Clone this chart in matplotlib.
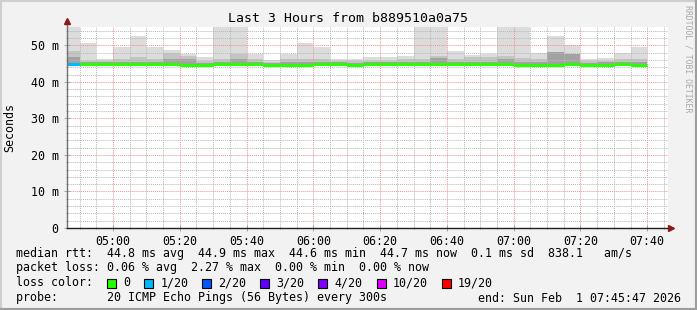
import numpy as np
import pandas as pd
import matplotlib
matplotlib.use('Agg')
import matplotlib.pyplot as plt
import matplotlib.dates as mdates
from matplotlib.lines import Line2D
from matplotlib.patches import Rectangle

plt.rcParams['font.family'] = 'DejaVu Sans Mono'

W, H = 697, 310

# data (ms), one value per 5 min step, step end times below
slot_end = pd.date_range('2026-02-01 04:50', '2026-02-01 07:40', freq='5min')
t_start = pd.Timestamp('2026-02-01 04:46:13')
t_end = pd.Timestamp('2026-02-01 07:46:13')

median = [44.8, 44.8, 44.8, 44.8, 44.8, 44.8, 44.8, 44.6, 44.6, 44.8, 44.8, 44.8,
          44.6, 44.6, 44.7, 44.8, 44.8, 44.7, 44.8, 44.8, 44.8, 44.8, 44.8, 44.8,
          44.8, 44.8, 44.8, 44.7, 44.7, 44.7, 44.8, 44.7, 44.7, 44.8, 44.7]
loss = [1, 0, 0, 0, 0, 0, 0, 0, 0, 0, 0, 0, 0, 0, 0, 0, 0, 0,
        0, 0, 0, 0, 0, 0, 0, 0, 0, 0, 0, 0, 0, 0, 0, 0, 0]
smoke_max = [56.0, 50.5, 46.2, 49.5, 52.5, 49.5, 48.6, 47.5, 46.8, 56.0, 56.0, 47.5,
             45.9, 47.5, 50.5, 49.5, 46.2, 46.2, 46.8, 46.8, 47.1, 56.0, 56.0, 48.5,
             47.3, 47.5, 56.0, 56.0, 48.0, 52.5, 50.0, 46.2, 46.6, 48.0, 49.5]
smoke_mid = [48.3, 45.6, 45.6, 46.2, 46.8, 46.2, 48.0, 47.1, 45.6, 46.2, 47.5, 46.2,
             45.4, 46.2, 46.3, 46.3, 45.6, 45.6, 45.6, 45.6, 46.2, 46.2, 47.1, 46.2,
             46.8, 46.8, 47.1, 46.4, 46.2, 48.2, 47.5, 45.6, 45.8, 46.2, 46.2]
smoke_dark = [46.7, 45.3, 45.3, 45.4, 45.5, 45.4, 46.2, 46.2, 45.2, 45.4, 46.2, 45.4,
              45.1, 45.3, 45.4, 45.4, 45.3, 45.2, 45.3, 45.3, 45.4, 45.4, 46.6, 45.4,
              45.5, 45.5, 46.2, 45.4, 45.4, 48.2, 47.5, 45.2, 45.3, 45.4, 45.4]
smoke_min = 44.4

loss_steps = ['0', '1/20', '2/20', '3/20', '4/20', '10/20', '19/20']
loss_colors = ['#26ff00', '#00b8ff', '#0059ff', '#5e00ff', '#7e00ff', '#dd00ff', '#ff0000']

legend_lines = [
    'median rtt:  44.8 ms avg  44.9 ms max  44.6 ms min  44.7 ms now  0.1 ms sd  838.1   am/s',
    'packet loss: 0.06 % avg  2.27 % max  0.00 % min  0.00 % now',
]
probe_text = 'probe:       20 ICMP Echo Pings (56 Bytes) every 300s'
end_text = 'end: Sun Feb  1 07:45:47 2026'
title = 'Last 3 Hours from b889510a0a75'

# layout in pixels
L, R, T, B = 67, 668, 27, 228
FS = 8.4

fig = plt.figure(figsize=(W / 100, H / 100), dpi=100, facecolor='#f2f2f2')
ax = fig.add_axes([L / W, 1 - B / H, (R - L) / W, (B - T) / H])
ax.set_facecolor('white')

x_end = mdates.date2num(slot_end)
step = 5 / 1440
x_left = x_end - step

for top, col in [(smoke_max, '#dcdcdc'), (smoke_mid, '#c4c4c4'), (smoke_dark, '#a2a2a2')]:
    ax.bar(x_left, np.array(top) - smoke_min, bottom=smoke_min, width=step,
           align='edge', color=col, linewidth=0, zorder=1)

line_cols = [loss_colors[[0, 1, 2, 3, 4, 10, 19].index(n)] for n in loss]
ax.hlines(median, x_left, x_end, colors=line_cols, linewidth=2.2, zorder=4)

ax.set_xlim(mdates.date2num(t_start), mdates.date2num(t_end))
ax.set_ylim(0, 55)

ax.xaxis.set_major_locator(mdates.MinuteLocator(byminute=[0, 20, 40]))
ax.xaxis.set_minor_locator(mdates.MinuteLocator(byminute=range(0, 60, 5)))
ax.xaxis.set_major_formatter(mdates.DateFormatter('%H:%M'))
ax.set_yticks(range(0, 51, 10))
ax.set_yticks(range(0, 55, 2), minor=True)
ax.set_yticklabels(['0' if v == 0 else f'{v} m' for v in range(0, 51, 10)])

ax.set_axisbelow(False)
ax.grid(which='minor', color='#b8b8b8', linestyle=(0, (1, 1)), linewidth=0.7, zorder=2)
ax.grid(which='major', color='#f09090', linestyle=(0, (1, 1)), linewidth=0.7, zorder=3)

ax.tick_params(which='both', direction='inout', color='#999999', width=0.6)
ax.tick_params(which='major', length=4, labelsize=FS, labelcolor='#000000')
ax.tick_params(which='minor', length=2)
ax.tick_params(axis='y', pad=4)
ax.tick_params(axis='x', pad=3)

for s in ax.spines.values():
    s.set_visible(False)

# axes with arrows
fx = lambda px: px / W
fy = lambda py: 1 - py / H
fig.add_artist(Line2D([fx(L), fx(L)], [fy(B), fy(21)], color='#707070', lw=1.0))
fig.add_artist(Line2D([fx(L), fx(671)], [fy(B), fy(B)], color='#202020', lw=1.0))
fig.add_artist(Line2D([fx(L)], [fy(21)], marker='^', markersize=5, color='#8b1a1a'))
fig.add_artist(Line2D([fx(671)], [fy(B)], marker='>', markersize=5, color='#8b1a1a'))

# texts
fig.text(fx(348), fy(19), title, ha='center', va='center', fontsize=9.5)
fig.text(fx(10), fy(128), 'Seconds', rotation=90, ha='center', va='center', fontsize=FS)
fig.text(fx(688), fy(59), 'RRDTOOL / TOBI OETIKER', rotation=270, ha='center', va='center',
         fontsize=5.9, color='#a8a8a8')

cw = 7.0
for i, s in enumerate(legend_lines):
    fig.text(fx(16), fy(253 + 15 * i), s, ha='left', va='center', fontsize=FS)

fig.text(fx(16), fy(283), 'loss color:', ha='left', va='center', fontsize=FS)
col = 13.0
for lab, c in zip(loss_steps, loss_colors):
    bx = 16 + col * cw
    fig.add_artist(Rectangle((fx(bx), fy(287.5)), 9 / W, 9 / H, facecolor=c,
                             edgecolor='black', linewidth=0.8))
    col += 2.3
    fig.text(fx(16 + col * cw), fy(283), lab, ha='left', va='center', fontsize=FS)
    col += len(lab) + 2

fig.text(fx(16), fy(298), probe_text, ha='left', va='center', fontsize=FS)
fig.text(fx(681), fy(298), end_text, ha='right', va='center', fontsize=FS)

# frame
fig.add_artist(Line2D([0, 0, 1], [0, 1, 1], color='#cfcfcf', lw=3))
fig.add_artist(Line2D([0, 1, 1], [0, 0, 1], color='#9e9e9e', lw=3))

fig.savefig('out.png', dpi=100, facecolor=fig.get_facecolor())
